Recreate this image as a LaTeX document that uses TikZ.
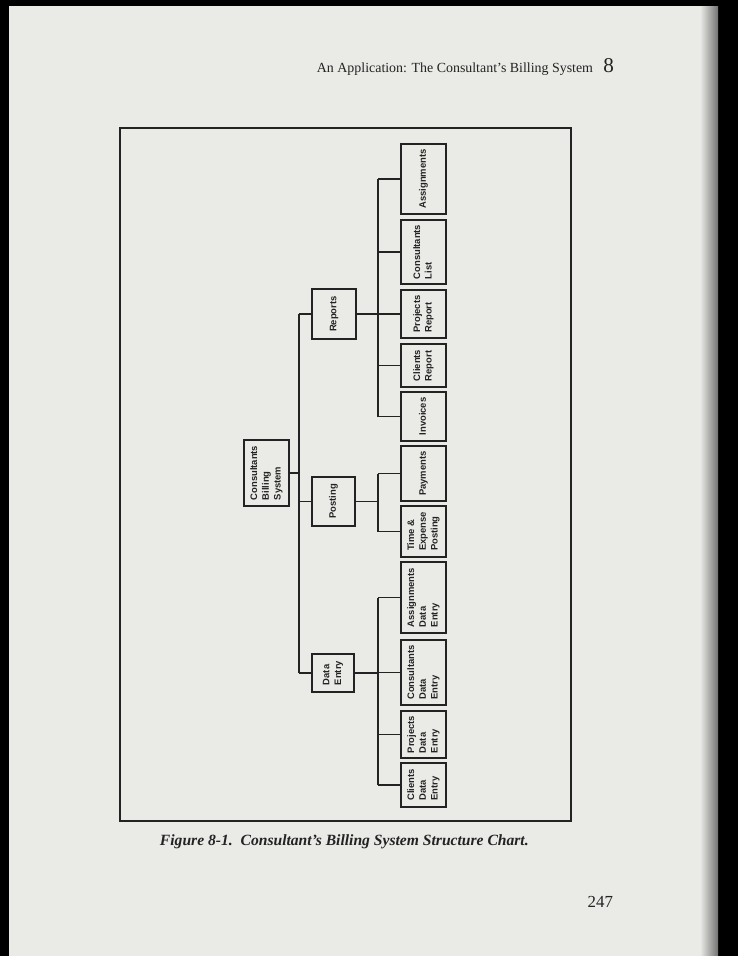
\documentclass[tikz,border=0pt]{standalone}
\usepackage{fontspec}
\setmainfont{Liberation Serif}
\setsansfont{Liberation Sans}
\usepackage{graphicx}
\usetikzlibrary{calc}

\definecolor{pagegray}{RGB}{234,234,231}
\definecolor{inkgray}{RGB}{35,35,35}

\newcommand{\vtext}[1]{\rotatebox{90}{\begin{tabular}{@{}l@{}}#1\end{tabular}}}

\tikzset{
  chartbox/.style={draw=inkgray, line width=1.3pt, fill=pagegray, inner sep=0pt,
    font=\sffamily\bfseries\fontsize{6.7}{8.3}\selectfont, text=inkgray},
  link/.style={draw=inkgray, line width=1pt},
  frameline/.style={draw=inkgray, line width=1.4pt}
}

\begin{document}
\begin{tikzpicture}[x=0.025cm, y=-0.025cm]
\useasboundingbox (0,0) rectangle (738,956);
% scan background
\fill[black] (0,0) rectangle (738,956);
\fill[pagegray] (9,6) rectangle (716,956);
\shade[left color=pagegray, right color=black!55] (700,6) rectangle (718,956);

% running head
\node[anchor=base east, font=\fontsize{9.9}{11}\selectfont, text=inkgray] (head) at (598,72) {An Application: The Consultant's Billing System};
\node[anchor=base east, font=\fontsize{15}{16}\selectfont, text=inkgray] (chap) at (619,72) {8};

% outer frame
\draw[frameline] (120,128) rectangle (571,821);

% level 1
\node[chartbox, minimum width=45*0.025cm, minimum height=66*0.025cm] (root) at (266.5,473) {\vtext{Consultants\\Billing\\System}};

% level 2
\node[chartbox, minimum width=44*0.025cm, minimum height=50*0.025cm] (reports) at (334,314) {\vtext{Reports}};
\node[chartbox, minimum width=43*0.025cm, minimum height=49*0.025cm] (posting) at (333.5,501.5) {\vtext{Posting}};
\node[chartbox, minimum width=42*0.025cm, minimum height=38*0.025cm] (dataentry) at (333,673) {\vtext{Data\\Entry}};

% level 3
\node[chartbox, minimum width=45*0.025cm, minimum height=70*0.025cm] (assign) at (423.5,179) {\vtext{Assignments}};
\node[chartbox, minimum width=45*0.025cm, minimum height=64*0.025cm] (conslist) at (423.5,252) {\vtext{Consultants\\List}};
\node[chartbox, minimum width=45*0.025cm, minimum height=48*0.025cm] (projrep) at (423.5,314) {\vtext{Projects\\Report}};
\node[chartbox, minimum width=45*0.025cm, minimum height=43*0.025cm] (clirep) at (423.5,365.5) {\vtext{Clients\\Report}};
\node[chartbox, minimum width=45*0.025cm, minimum height=49*0.025cm] (invoices) at (423.5,416.5) {\vtext{Invoices}};
\node[chartbox, minimum width=45*0.025cm, minimum height=55*0.025cm] (payments) at (423.5,473.5) {\vtext{Payments}};
\node[chartbox, minimum width=45*0.025cm, minimum height=51*0.025cm] (timeexp) at (423.5,531.5) {\vtext{Time \&\\Expense\\Posting}};
\node[chartbox, minimum width=45*0.025cm, minimum height=71*0.025cm] (assignde) at (423.5,597.5) {\vtext{Assignments\\Data\\Entry}};
\node[chartbox, minimum width=45*0.025cm, minimum height=65*0.025cm] (consde) at (423.5,672.5) {\vtext{Consultants\\Data\\Entry}};
\node[chartbox, minimum width=45*0.025cm, minimum height=47*0.025cm] (projde) at (423.5,734.5) {\vtext{Projects\\Data\\Entry}};
\node[chartbox, minimum width=45*0.025cm, minimum height=44*0.025cm] (clide) at (423.5,785) {\vtext{Clients\\Data\\Entry}};

% bus lines
\coordinate (trunk) at (299,0);
\coordinate (bus) at (378,0);

\draw[link] (root.east) -- (root.east -| trunk);
\draw[link] (reports.west -| trunk) -- (dataentry.west -| trunk);
\foreach \n in {reports,posting,dataentry}
  \draw[link] (\n.west) -- (\n.west -| trunk);

\draw[link] (assign.west -| bus) -- (invoices.west -| bus);
\draw[link] (payments.west -| bus) -- (timeexp.west -| bus);
\draw[link] (assignde.west -| bus) -- (clide.west -| bus);
\foreach \n in {reports,posting,dataentry}
  \draw[link] (\n.east) -- (\n.east -| bus);
\foreach \n in {assign,conslist,projrep,clirep,invoices,payments,timeexp,assignde,consde,projde,clide}
  \draw[link] (\n.west) -- (\n.west -| bus);

% caption and folio
\node[anchor=base west, font=\bfseries\itshape\fontsize{11.1}{13}\selectfont, text=inkgray] (caption) at (155,845) {Figure 8-1.\ \ Consultant's Billing System Structure Chart.};
\node[anchor=base east, font=\fontsize{12}{13}\selectfont, text=inkgray] (folio) at (618,907) {247};
\end{tikzpicture}
\end{document}
